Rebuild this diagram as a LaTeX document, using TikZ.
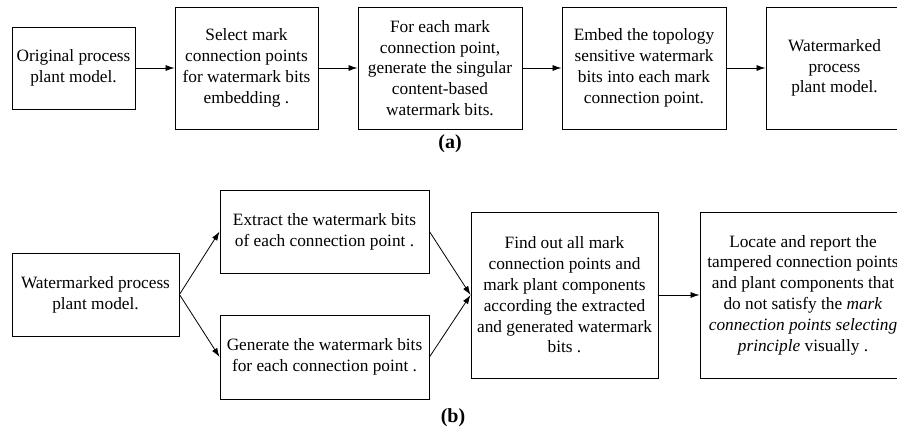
\documentclass[tikz,border=0pt]{standalone}
\usepackage{fontspec}
\setmainfont{Liberation Serif}
\usetikzlibrary{arrows.meta}
\begin{document}
\begin{tikzpicture}[x=1pt,y=-1pt,
  box/.style={draw,line width=0.9pt,align=center,inner sep=0pt,font=\fontsize{17.3}{20.8}\selectfont},
  arr/.style={-{Latex[length=9pt,width=6pt]},line width=0.8pt},
  lbl/.style={font=\fontsize{20}{22}\selectfont\bfseries}]
\useasboundingbox (0,0) rectangle (897,431);
\clip (0,0) rectangle (897,431);
% (a)
\node[box,minimum width=123pt,minimum height=82pt] (a1) at (73.5,68) {Original process\\plant model.};
\node[box,minimum width=143pt,minimum height=122pt] (a2) at (246.5,68) {Select mark\\connection points\\for watermark bits\\embedding .};
\node[box,minimum width=164pt,minimum height=122pt] (a3) at (440,68) {For each mark\\connection point,\\generate the singular\\content-based\\watermark bits.};
\node[box,minimum width=164pt,minimum height=122pt] (a4) at (644,68) {Embed the topology\\sensitive watermark\\bits into each mark\\connection point.};
\node[box,minimum width=137pt,minimum height=122pt] (a5) at (834.5,68) {Watermarked\\process\\plant model.};
\draw[arr] (a1) -- (a2);
\draw[arr] (a2) -- (a3);
\draw[arr] (a3) -- (a4);
\draw[arr] (a4) -- (a5);
\node[lbl] (la) at (450,144) {(a)};
% (b)
\node[box,minimum width=167pt,minimum height=83pt] (w) at (95.5,294.5) {Watermarked process\\plant model.};
\node[box,minimum width=209pt,minimum height=83pt] (ex) at (324.5,231.5) {Extract the watermark bits\\of each connection point .};
\node[box,minimum width=209pt,minimum height=84pt] (ge) at (324.5,357) {Generate the watermark bits\\for each connection point .};
\node[box,minimum width=187pt,minimum height=166pt] (fi) at (564.5,295) {Find out all mark\\connection points and\\mark plant components\\according the extracted\\and generated watermark\\bits .};
\node[box,minimum width=206pt,minimum height=166pt] (lo) at (803,295) {Locate and report the\\tampered connection points\\and plant components that\\do not satisfy the \textit{mark}\\\textit{connection points selecting}\\\textit{principle} visually .};
\draw[arr] (w.east) -- (ex.west);
\draw[arr] (w.east) -- (ge.west);
\draw[arr] (ex.east) -- (fi.west);
\draw[arr] (ge.east) -- (fi.west);
\draw[arr] (fi) -- (lo);
\node[lbl] (lb) at (453,418) {(b)};
\end{tikzpicture}
\end{document}
